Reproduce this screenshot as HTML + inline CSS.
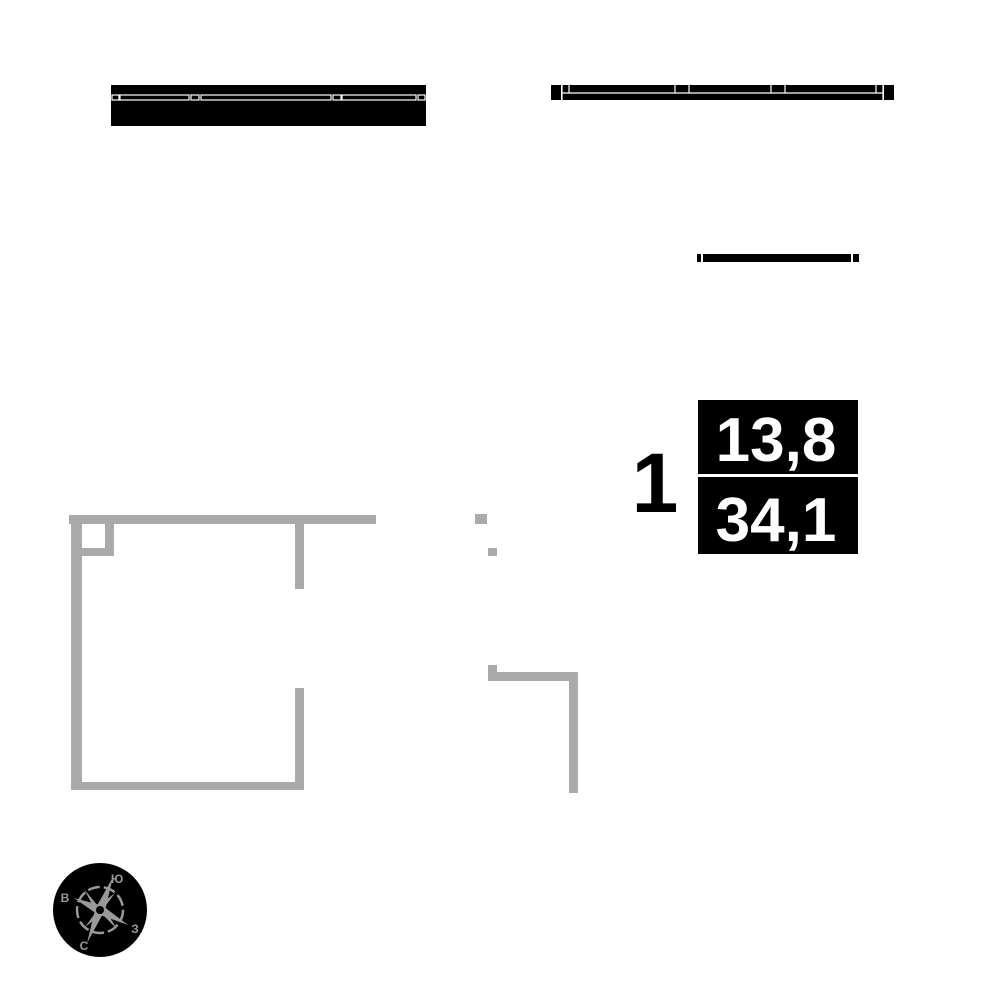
<!DOCTYPE html>
<html><head><meta charset="utf-8"><style>html,body{margin:0;padding:0;background:#fff;width:1000px;height:1000px;overflow:hidden}</style></head>
<body>
<svg width="1000" height="1000" viewBox="0 0 1000 1000" xmlns="http://www.w3.org/2000/svg">
<rect width="1000" height="1000" fill="#fff"/>
<!-- top-left window -->
<rect x="111" y="85" width="315" height="41" fill="#000"/>
<g fill="none" stroke="#fff" stroke-width="1.2">
<rect x="112" y="95" width="7" height="5"/>
<rect x="120" y="95" width="69" height="5"/>
<rect x="191" y="95" width="8" height="5"/>
<rect x="201" y="95" width="130" height="5"/>
<rect x="333" y="95" width="8" height="5"/>
<rect x="342" y="95" width="74" height="5"/>
<rect x="418" y="95" width="7" height="5"/>
</g>
<!-- top-right window -->
<rect x="551" y="85" width="10" height="15" fill="#000"/>
<rect x="884" y="85" width="10" height="15" fill="#000"/>
<rect x="562" y="85" width="321" height="15" fill="#000"/>
<g fill="none" stroke="#fff" stroke-width="1.2">
<line x1="562" y1="93" x2="883" y2="93"/>
<line x1="562" y1="85" x2="562" y2="100"/>
<line x1="883" y1="85" x2="883" y2="100"/>
<line x1="569" y1="85" x2="569" y2="93"/>
<line x1="675" y1="85" x2="675" y2="93"/>
<line x1="689" y1="85" x2="689" y2="93"/>
<line x1="771" y1="85" x2="771" y2="93"/>
<line x1="785" y1="85" x2="785" y2="93"/>
<line x1="876" y1="85" x2="876" y2="93"/>
</g>
<!-- middle line -->
<rect x="697" y="254" width="4" height="8" fill="#000"/>
<rect x="703" y="254" width="148" height="8" fill="#000"/>
<rect x="853" y="254" width="6" height="8" fill="#000"/>
<!-- labels -->
<text x="655" y="512" font-family="'Liberation Sans',sans-serif" font-weight="bold" font-size="84" text-anchor="middle" fill="#000">1</text>
<rect x="698" y="400" width="160" height="74" fill="#000"/>
<rect x="698" y="477" width="160" height="77" fill="#000"/>
<text x="776" y="461" font-family="'Liberation Sans',sans-serif" font-weight="bold" font-size="62" text-anchor="middle" fill="#fff">13,8</text>
<text x="776" y="541" font-family="'Liberation Sans',sans-serif" font-weight="bold" font-size="62" text-anchor="middle" fill="#fff">34,1</text>
<!-- plan walls -->
<g fill="#aaa">
<rect x="69" y="515" width="307" height="9"/>
<rect x="71" y="515" width="11" height="275"/>
<rect x="82" y="548" width="32" height="8"/>
<rect x="105" y="524" width="9" height="32"/>
<rect x="295" y="524" width="9" height="65"/>
<rect x="295" y="688" width="9" height="102"/>
<rect x="71" y="782" width="233" height="8"/>
<rect x="475" y="514" width="12" height="10"/>
<rect x="488" y="548" width="9" height="8"/>
<rect x="488" y="665" width="9" height="8"/>
<rect x="488" y="672" width="90" height="9"/>
<rect x="569" y="672" width="9" height="121"/>
</g>
<!-- compass -->
<circle cx="100" cy="910" r="47" fill="#000"/>
<circle cx="100" cy="910" r="23" fill="none" stroke="#999" stroke-width="2.5" stroke-dasharray="12 4"/>
<polygon fill="#999" points="113,877 105.6,908 128,925 102,915.6 87,943 94.4,912.2 74,898 97.8,904.4"/>
<polygon fill="#999" points="84,889 98,906 115,893 104,908 117,929 102,914 85,927 96,912"/>
<circle cx="100" cy="910" r="5" fill="#000" stroke="#999" stroke-width="2"/>
<g font-family="'Liberation Sans',sans-serif" font-weight="bold" font-size="12" fill="#999" text-anchor="middle">
<text x="65" y="902">В</text>
<text x="117" y="883">Ю</text>
<text x="135" y="933">З</text>
<text x="84" y="950">С</text>
</g>
</svg>
</body></html>
